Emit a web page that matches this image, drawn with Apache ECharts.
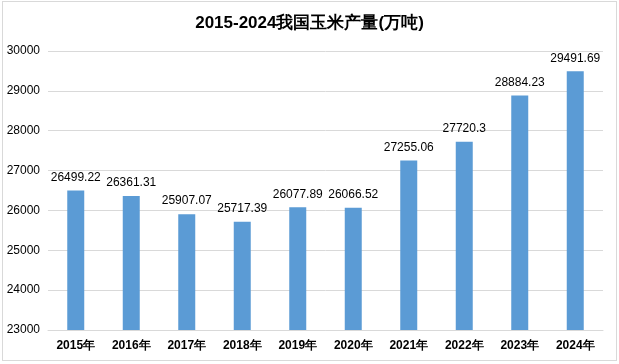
<!DOCTYPE html>
<html><head><meta charset="utf-8">
<script src="https://cdn.jsdelivr.net/npm/echarts@6/dist/echarts.min.js"></script>
<style>html,body{margin:0;padding:0;background:#fff}#c{width:619px;height:364px;box-sizing:border-box;}
#frame{position:absolute;left:2px;top:1px;width:613px;height:358px;border:1px solid #d9d9d9;pointer-events:none}</style>
</head><body><div id="c"></div><div id="frame"></div>
<script>
const categories = ['2015年','2016年','2017年','2018年','2019年','2020年','2021年','2022年','2023年','2024年'];
const values = [26499.22,26361.31,25907.07,25717.39,26077.89,26066.52,27255.06,27720.3,28884.23,29491.69];
const yMin = 23000, yMax = 30000, yStep = 1000;
const chart = echarts.init(document.getElementById('c'));
chart.setOption({
  animation:false,
  title:{text:'2015-2024我国玉米产量(万吨)',left:'center',top:10,textStyle:{fontFamily:'Liberation Sans',fontSize:17,fontWeight:'bold',color:'#000'}},
  grid:{left:48,right:16,top:51,bottom:34},
  xAxis:{type:'category',data:categories,axisTick:{show:false},axisLine:{lineStyle:{color:'#d9d9d9'}},
    axisLabel:{color:'#000',fontWeight:'bold',fontSize:12,fontFamily:'Liberation Sans',margin:10}},
  yAxis:{type:'value',min:yMin,max:yMax,interval:yStep,
    axisLabel:{color:'#000',fontSize:12,fontFamily:'Liberation Sans',margin:8,formatter:v=>String(v)},
    splitLine:{lineStyle:{color:'#d9d9d9'}},axisLine:{show:false},axisTick:{show:false}},
  series:[{type:'bar',data:values,barWidth:17,itemStyle:{color:'#5b9bd5'},
    label:{show:true,position:'top',distance:7,color:'#000',fontSize:12,fontFamily:'Liberation Sans',formatter:p=>String(p.value)}}]
});
</script></body></html>
